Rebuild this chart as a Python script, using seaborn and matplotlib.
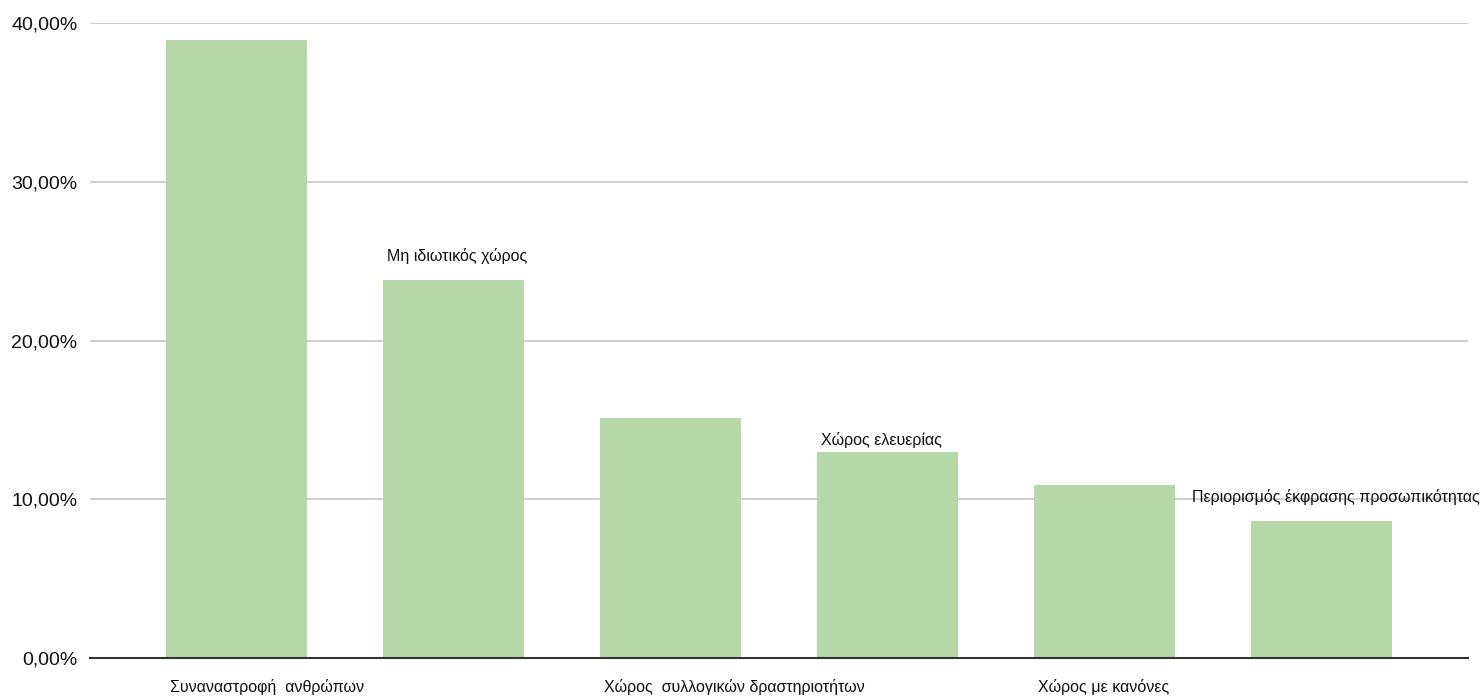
import matplotlib
matplotlib.use("Agg")
import matplotlib.pyplot as plt
import matplotlib.transforms as mtransforms
from matplotlib.ticker import FuncFormatter
import seaborn as sns
import pandas as pd

# values (percent)
categories = [
    "Συναναστροφή  ανθρώπων",
    "Μη ιδιωτικός χώρος",
    "Χώρος  συλλογικών δραστηριοτήτων",
    "Χώρος ελευερίας",
    "Χώρος με κανόνες",
    "Περιορισμός έκφρασης προσωπικότητας",
]
shares = [38.9, 23.8, 15.1, 13.0, 10.9, 8.6]
y_ticks = [0, 10, 20, 30, 40]

df = pd.DataFrame({"category": categories, "share": shares})

sns.set_theme(style="white")
plt.rcParams["font.family"] = ["Liberation Sans Narrow", "Liberation Sans", "DejaVu Sans"]

fig = plt.figure(figsize=(14.83, 6.98), dpi=100)
ax = fig.add_axes([90 / 1483, 1 - 658 / 698, 1378 / 1483, 635 / 698])

sns.barplot(data=df, x="category", y="share", color="#b6d7a8", width=0.65,
            saturation=1, linewidth=0, ax=ax, zorder=2)

ax.set_xlim(-0.674, len(categories) - 1 + 0.674)
ax.set_ylim(0, 40)
ax.set_yticks(y_ticks)
ax.yaxis.set_major_formatter(FuncFormatter(lambda v, p: f"{v:.2f}".replace(".", ",") + "%"))
ax.tick_params(axis="y", labelsize=14, colors="#111111", pad=9, length=0)
ax.grid(axis="y", color="#cccccc", linewidth=1.3, zorder=0)
ax.set_xticks([])
ax.set_xlabel("")
ax.set_ylabel("")
for s in ["top", "right", "left"]:
    ax.spines[s].set_visible(False)
ax.spines["bottom"].set_color("#333333")
ax.spines["bottom"].set_linewidth(1.5)
ax.spines["bottom"].set_zorder(3)

# alternate label placement: below the axis / above the bar
bottom_tr = mtransforms.blended_transform_factory(ax.transData, ax.transAxes)
top_offsets = [0, 24, 0, 12, 0, 24]
label_size = 11.5
for i, (bar, label) in enumerate(zip(ax.patches, categories)):
    left = bar.get_x()
    if i % 2 == 0:
        ax.text(left + 0.02, -0.045, label, transform=bottom_tr, ha="left", va="center",
                fontsize=label_size, color="#111111")
    elif i == len(categories) - 1:
        ax.annotate(label, xy=(1480 / 1483, bar.get_height()), xycoords=("figure fraction", "data"),
                    xytext=(0, top_offsets[i]), textcoords="offset pixels",
                    ha="right", va="center", fontsize=label_size, color="#111111",
                    annotation_clip=False)
    else:
        ax.annotate(label, xy=(left + 0.02, bar.get_height()), xytext=(0, top_offsets[i]),
                    textcoords="offset pixels", ha="left", va="center",
                    fontsize=label_size, color="#111111")

fig.savefig("out.png", dpi=100)
